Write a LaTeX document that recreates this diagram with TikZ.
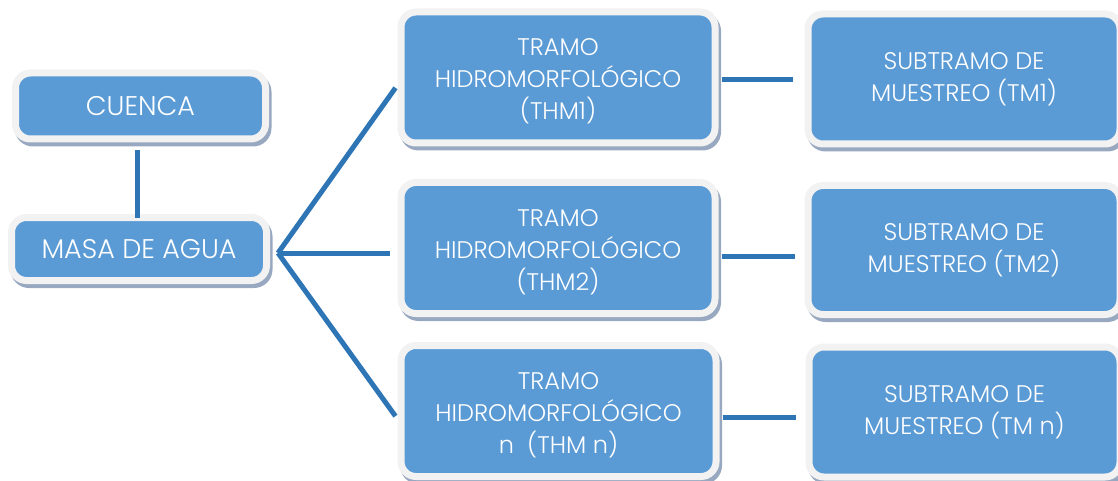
\documentclass[tikz,border=0pt]{standalone}
\usepackage{fontspec}
\IfFontExistsTF{Poppins Light}{\setmainfont{Poppins Light}}{\setmainfont{Poppins}}
\definecolor{boxblue}{HTML}{5B9BD5}
\definecolor{ringgray}{HTML}{F2F2F2}
\definecolor{shadowc}{HTML}{98A8C0}
\definecolor{linkblue}{HTML}{2E75B6}
\newcommand{\tallstrut}{\rule{0pt}{25pt}}
\tikzset{
  box/.style={rectangle, rounded corners=15pt, fill=boxblue, draw=ringgray, line width=7pt,
    inner sep=0pt, align=center, text=white,
    preaction={fill=shadowc, draw=shadowc, transform canvas={shift={(2.5pt,-4pt)}}}},
  bigtxt/.style={font=\fontsize{27}{34}\selectfont},
  smalltxt/.style={font=\fontsize{24}{32}\selectfont},
  link/.style={draw=linkblue, line width=5pt}
}
\begin{document}
\begin{tikzpicture}[x=1pt,y=-1pt]
\useasboundingbox (0,0) rectangle (1118,481);
% left column
\node[box, bigtxt, minimum width=250pt, minimum height=66pt] (cuenca) at (140.5,106) {CUENCA};
\node[box, bigtxt, minimum width=255pt, minimum height=63pt] (masa) at (139,249) {MASA DE AGUA};
% middle column
\node[box, smalltxt, minimum width=314pt, minimum height=131pt] (thm1) at (558,77.5) {\tallstrut TRAMO\\HIDROMORFOLÓGICO\\(THM1)};
\node[box, smalltxt, minimum width=314pt, minimum height=131pt] (thm2) at (558,248) {\tallstrut TRAMO\\HIDROMORFOLÓGICO\\(THM2)};
\node[box, smalltxt, minimum width=315pt, minimum height=131pt] (thmn) at (558.5,411) {\tallstrut TRAMO\\HIDROMORFOLÓGICO\\n\ \ (THM n)};
% right column
\node[box, smalltxt, minimum width=312pt, minimum height=130pt] (sub1) at (964,79) {SUBTRAMO DE\\MUESTREO (TM1)};
\node[box, smalltxt, minimum width=312pt, minimum height=129pt] (sub2) at (964,250) {SUBTRAMO DE\\MUESTREO (TM2)};
\node[box, smalltxt, minimum width=311pt, minimum height=130pt] (subn) at (964.5,412) {SUBTRAMO DE\\MUESTREO (TM n)};
% connectors
\coordinate (fan) at ([xshift=8pt,yshift=-4pt]masa.east);
\draw[link, shorten <=8pt, shorten >=-3.5pt] ([xshift=-3.5pt]cuenca.south) -- ([xshift=-3.5pt]cuenca.south |- masa.north);
\draw[link, shorten >=3.5pt] (fan) -- ([yshift=-7.5pt]thm1.west);
\draw[link, shorten >=7.5pt] (fan) -- ([yshift=-5pt]thm2.west);
\draw[link, shorten >=3.5pt] (fan) -- ([yshift=-8pt]thmn.west);
\draw[link, shorten <=3pt, shorten >=12pt] ([yshift=-2.5pt]thm1.east) -- ([yshift=-2.5pt]thm1.east -| sub1.west);
\draw[link, shorten <=3pt, shorten >=10pt] ([yshift=-8pt]thm2.east) -- ([yshift=-8pt]thm2.east -| sub2.west);
\draw[link, shorten <=3pt, shorten >=10pt] ([yshift=-6pt]thmn.east) -- ([yshift=-6pt]thmn.east -| subn.west);
\end{tikzpicture}
\end{document}
